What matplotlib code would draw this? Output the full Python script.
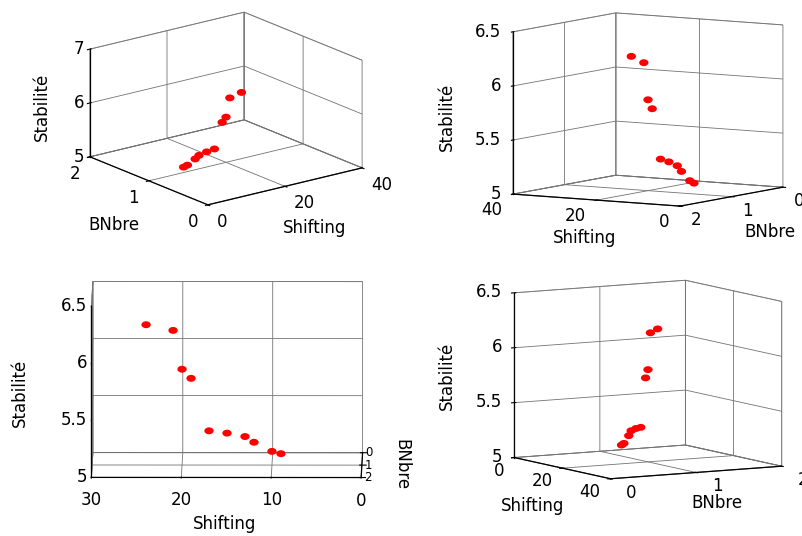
import numpy as np
import matplotlib
matplotlib.use('Agg')
import matplotlib.pyplot as plt
from matplotlib.path import Path
from mpl_toolkits.mplot3d import proj3d

# ---- data ----
shifting = [24, 21, 20, 19, 17, 15, 13, 12, 10, 9]
bnbre = [1, 1, 1, 1, 1, 1, 1, 1, 1, 1]
stabilite = [6.23, 6.18, 5.84, 5.76, 5.30, 5.28, 5.25, 5.20, 5.12, 5.10]

x_label = "Shifting"
y_label = "BNbre"
z_label = "Stabilité"

yticks = [0, 1, 2]
ylabels = ["0", "1", "2"]
xticks_40 = [0, 20, 40]
xlabels_40 = ["0", "20", "40"]
xticks_30 = [0, 10, 20, 30]
xlabels_30 = ["0", "10", "20", "30"]
zticks_7 = [5, 6, 7]
zlabels_7 = ["5", "6", "7"]
zticks_65 = [5, 5.5, 6, 6.5]
zlabels_65 = ["5", "5.5", "6", "6.5"]

W, H = 803, 536
FS = 12
plt.rcParams['font.family'] = ['DejaVu Sans']
plt.rcParams['grid.color'] = '0.45'
plt.rcParams['grid.linewidth'] = 0.6
fig = plt.figure(figsize=(W / 100, H / 100), dpi=100)

t = np.linspace(0, 2 * np.pi, 41)
ell = Path(np.column_stack([1.35 * np.cos(t), np.sin(t)]), closed=True)

views = [
    dict(azim=-127.5, elev=18.2, aspect=(195, 194.4, 113.7), xlim=(0, 40),
         xt=xticks_40, xl=xlabels_40, zlim=(5, 7), zt=zticks_7, zl=zlabels_7,
         target=(90, 12, 362, 205), zpos='default',
         xspec=((0, 5), 'left', 9, 17, FS), yspec=((0, 5), 'center', -15, 17, FS),
         zspec=((0, 2), 'right', -6, 0, FS),
         labels=[(z_label, 42, 107, 90), (y_label, 114, 225, 0), (x_label, 315, 228, 0)]),
    dict(azim=122, elev=6.6, aspect=(197, 194, 163.4), xlim=(0, 40),
         xt=xticks_40, xl=xlabels_40, zlim=(5, 6.5), zt=zticks_65, zl=zlabels_65,
         target=(513, 13, 783, 206), zpos='upper',
         xspec=((2, 5), 'right', -11, 16, FS), yspec=((0, 5), 'left', 11, 14, FS),
         zspec=((40, 2), 'right', -12, 0, FS),
         labels=[(z_label, 447, 117, 90), (x_label, 585, 238, 0), (y_label, 770, 232, 0)]),
    dict(azim=90.3, elev=5, aspect=(271.7, 287, 173), xlim=(0, 30),
         xt=xticks_30, xl=xlabels_30, zlim=(5, 6.5), zt=zticks_65, zl=zlabels_65,
         target=(91, 282, 363, 477), zpos='upper',
         xspec=((2, 5), 'center', 0, 23, FS), yspec=((0, 5), 'left', 3, 0, 8.5),
         zspec=((30, 2), 'right', -4, 0, FS),
         labels=[(z_label, 20, 393, 90), (x_label, 225, 524, 0), (y_label, 401, 465, -90)]),
    dict(azim=-30, elev=7.3, aspect=(192, 197, 165.6), xlim=(0, 40),
         xt=xticks_40, xl=xlabels_40, zlim=(5, 6.5), zt=zticks_65, zl=zlabels_65,
         target=(513, 282, 783, 477), zpos='lower',
         xspec=((0, 5), 'right', -10, 13, FS), yspec=((40, 5), 'center', 21, 14, FS),
         zspec=((0, 0), 'right', -12, -1, FS),
         labels=[(z_label, 447, 376, 90), (x_label, 533, 506, 0), (y_label, 717, 503, 0)]),
]


def project(ax, x, y, z):
    px, py, _ = proj3d.proj_transform(np.asarray(x, float), np.asarray(y, float),
                                      np.asarray(z, float), ax.get_proj())
    d = ax.transData.transform(np.column_stack([px, py]))
    return d[:, 0], H - d[:, 1]


def fit(ax, target):
    x0, y0, x1, y1 = target
    fig.canvas.draw()
    cx, cy, cz = np.meshgrid(ax.get_xlim3d(), ax.get_ylim3d(), ax.get_zlim3d())
    dx, dy = project(ax, cx.ravel(), cy.ravel(), cz.ravel())
    dy = H - dy
    bb = ax.get_position()
    bx0, by0, size = bb.x0 * W, bb.y0 * H, bb.width * W
    u = (dx - bx0) / size
    v = (dy - by0) / size
    du, dv = u.max() - u.min(), v.max() - v.min()
    tw, th = x1 - x0, y1 - y0
    S = (du * tw + dv * th) / (du * du + dv * dv)
    cxp = (x0 + x1) / 2 - S * (u.max() + u.min()) / 2
    cyp = (H - (y0 + y1) / 2) - S * (v.max() + v.min()) / 2
    ax.set_position([cxp / W, cyp / H, S / W, S / H])


axes = []
for i, vw in enumerate(views):
    ax = fig.add_axes([0.05 + 0.5 * (i % 2), 0.5 - 0.5 * (i // 2) + 0.02, 0.4, 0.4 * W / H],
                      projection='3d', proj_type='ortho')
    ax.patch.set_visible(False)
    ax.scatter(shifting, bnbre, stabilite, color='red', marker=ell, s=45,
               depthshade=False, edgecolors='none')
    ax.set_xlim(*vw['xlim'])
    ax.set_ylim(0, 2)
    ax.set_zlim(*vw['zlim'])
    ax.set_xticks(vw['xt'])
    ax.set_yticks(yticks)
    ax.set_zticks(vw['zt'])
    ax.set_box_aspect(vw['aspect'])
    ax.view_init(elev=vw['elev'], azim=vw['azim'])
    for axis in (ax.xaxis, ax.yaxis, ax.zaxis):
        axis.pane.fill = False
        axis.pane.set_edgecolor('0.35')
        axis.pane.set_linewidth(0.7)
        axis.line.set_color('black')
        axis.line.set_linewidth(0.9)
        axis.set_tick_params(labelcolor='none', labelsize=FS)
    if vw['zpos'] != 'default':
        ax.zaxis.set_ticks_position(vw['zpos'])
    fit(ax, vw['target'])
    axes.append(ax)

fig.canvas.draw()
for ax, vw in zip(axes, views):
    # tick labels placed at the projected tick positions
    (ye, ze), ha, ddx, ddy, fs = vw['xspec']
    px, py = project(ax, vw['xt'], [ye] * len(vw['xt']), [ze] * len(vw['xt']))
    for a, b, s in zip(px, py, vw['xl']):
        fig.text((a + ddx) / W, 1 - (b + ddy) / H, s, fontsize=fs, ha=ha, va='center')
    (xe, ze), ha, ddx, ddy, fs = vw['yspec']
    px, py = project(ax, [xe] * len(yticks), yticks, [ze] * len(yticks))
    for a, b, s in zip(px, py, ylabels):
        fig.text((a + ddx) / W, 1 - (b + ddy) / H, s, fontsize=fs, ha=ha, va='center')
    (xe, ye), ha, ddx, ddy, fs = vw['zspec']
    px, py = project(ax, [xe] * len(vw['zt']), [ye] * len(vw['zt']), vw['zt'])
    for a, b, s in zip(px, py, vw['zl']):
        fig.text((a + ddx) / W, 1 - (b + ddy) / H, s, fontsize=fs, ha=ha, va='center')
    for txt, lx, ly, rot in vw['labels']:
        fig.text(lx / W, 1 - ly / H, txt, fontsize=FS, rotation=rot,
                 ha='center', va='center')

fig.savefig('out.png', dpi=100)
